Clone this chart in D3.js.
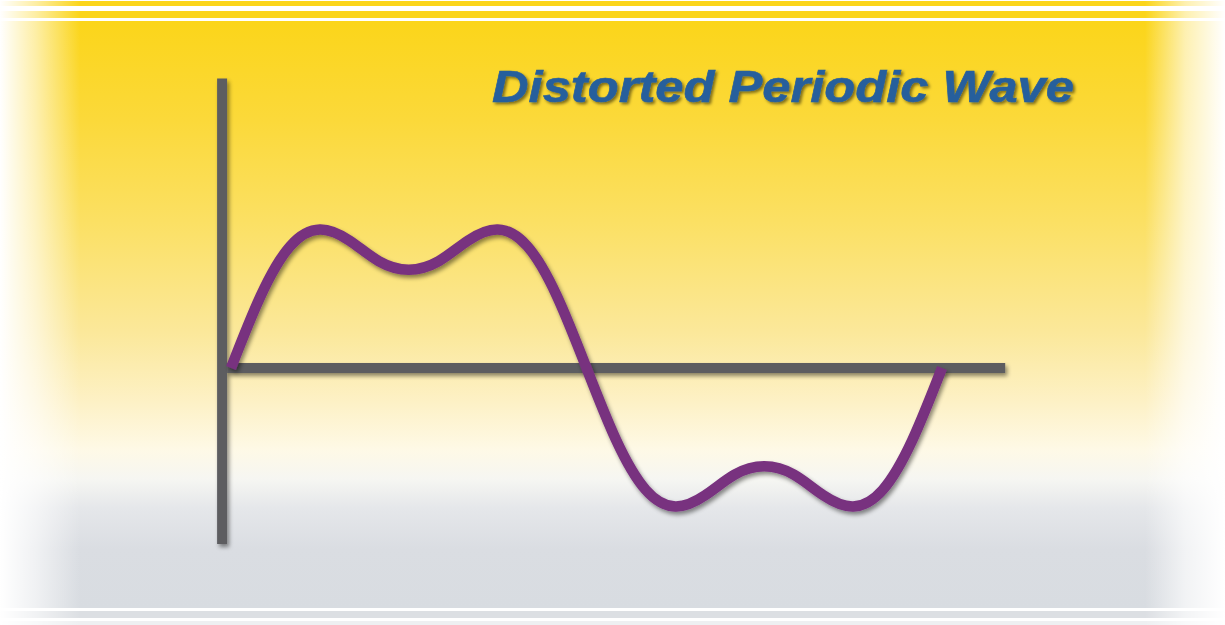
<!DOCTYPE html>
<html>
<head>
<meta charset="utf-8">
<script src="https://cdn.jsdelivr.net/npm/d3@7"></script>
<style>
  html, body { margin: 0; padding: 0; background: #fff; overflow: hidden; }
  svg { display: block; }
</style>
</head>
<body>
<svg id="chart"></svg>
<script>
// Size of the picture
const width = 1225;
const height = 625;

// Wave: phase in degrees, amplitude relative to the peak
const phase = [0, 15, 30, 45, 60, 75, 90, 105, 120, 135, 150, 165, 180,
               195, 210, 225, 240, 255, 270, 285, 300, 315, 330, 345, 360];
const amplitude = [0, 0.52, 0.88, 1.0, 0.92, 0.77, 0.71, 0.77, 0.92, 1.0, 0.88, 0.52, 0,
                   -0.52, -0.88, -1.0, -0.92, -0.77, -0.71, -0.77, -0.92, -1.0, -0.88, -0.52, 0];

// Axis extents in data units
const xAxisExtent = [-4.5, 392];
const yAxisExtent = [-1.27, 2.09];

const title = "Distorted Periodic Wave";

const svg = d3.select("#chart")
  .attr("width", width)
  .attr("height", height);

const defs = svg.append("defs");

// Background gradient, top yellow to bottom grey
const bg = defs.append("linearGradient")
  .attr("id", "bg")
  .attr("x1", 0).attr("y1", 0).attr("x2", 0).attr("y2", 1);
[
  [0.00, "#fbd51a"],
  [0.17, "#fbd93a"],
  [0.34, "#fbe063"],
  [0.53, "#fbe89a"],
  [0.65, "#fdf1c6"],
  [0.73, "#fef9e6"],
  [0.78, "#f6f6f2"],
  [0.83, "#e5e7ea"],
  [0.90, "#dadde2"],
  [1.00, "#d8dce1"]
].forEach(function(s) {
  bg.append("stop").attr("offset", s[0]).attr("stop-color", s[1]);
});

// White fades on the left and right edges
const fadeL = defs.append("linearGradient")
  .attr("id", "fadeL")
  .attr("x1", 0).attr("y1", 0).attr("x2", 1).attr("y2", 0);
fadeL.append("stop").attr("offset", 0).attr("stop-color", "#fff").attr("stop-opacity", 1);
fadeL.append("stop").attr("offset", 0.45).attr("stop-color", "#fff").attr("stop-opacity", 0.6);
fadeL.append("stop").attr("offset", 1).attr("stop-color", "#fff").attr("stop-opacity", 0);

const fadeR = defs.append("linearGradient")
  .attr("id", "fadeR")
  .attr("x1", 0).attr("y1", 0).attr("x2", 1).attr("y2", 0);
fadeR.append("stop").attr("offset", 0).attr("stop-color", "#fff").attr("stop-opacity", 0);
fadeR.append("stop").attr("offset", 0.5).attr("stop-color", "#fff").attr("stop-opacity", 0.65);
fadeR.append("stop").attr("offset", 1).attr("stop-color", "#fff").attr("stop-opacity", 1);

// Soft drop shadows
defs.append("filter")
  .attr("id", "shadow")
  .attr("x", "-20%").attr("y", "-20%").attr("width", "140%").attr("height", "140%")
  .append("feDropShadow")
  .attr("dx", 2).attr("dy", 3).attr("stdDeviation", 2.2)
  .attr("flood-color", "#000").attr("flood-opacity", 0.45);

defs.append("filter")
  .attr("id", "textShadow")
  .attr("x", "-5%").attr("y", "-20%").attr("width", "110%").attr("height", "150%")
  .append("feDropShadow")
  .attr("dx", 2).attr("dy", 2).attr("stdDeviation", 1.6)
  .attr("flood-color", "#000").attr("flood-opacity", 0.5);

// Background
svg.append("rect")
  .attr("x", 0).attr("y", 0).attr("width", width).attr("height", height)
  .attr("fill", "#ffffff");

svg.append("rect")
  .attr("x", 0).attr("y", 21).attr("width", width).attr("height", 587)
  .attr("fill", "url(#bg)");

// Stripes at the top
svg.append("rect").attr("x", 0).attr("y", 1).attr("width", width).attr("height", 5).attr("fill", "#fbd51a");
svg.append("rect").attr("x", 0).attr("y", 11).attr("width", width).attr("height", 7).attr("fill", "#fbd51a");

// Stripe at the bottom
svg.append("rect").attr("x", 0).attr("y", 611).attr("width", width).attr("height", 7).attr("fill", "#dcdfe3");
svg.append("rect").attr("x", 0).attr("y", 621).attr("width", width).attr("height", 4).attr("fill", "#eef0f2");

// Edge fades
svg.append("rect")
  .attr("x", 0).attr("y", 0).attr("width", 80).attr("height", height)
  .attr("fill", "url(#fadeL)");
svg.append("rect")
  .attr("x", 1145).attr("y", 0).attr("width", 80).attr("height", height)
  .attr("fill", "url(#fadeR)");

// Scales
const x = d3.scaleLinear()
  .domain([0, 360])
  .range([231, 942]);

const y = d3.scaleLinear()
  .domain([-1, 1])
  .range([506.5, 229.5]);

// Axes
const axes = svg.append("g")
  .attr("filter", "url(#shadow)")
  .attr("stroke", "#5d5d61")
  .attr("stroke-width", 10);

axes.append("line")
  .attr("x1", x(xAxisExtent[0])).attr("x2", x(xAxisExtent[0]))
  .attr("y1", y(yAxisExtent[0])).attr("y2", y(yAxisExtent[1]));

axes.append("line")
  .attr("x1", x(xAxisExtent[0]) + 5).attr("x2", x(xAxisExtent[1]))
  .attr("y1", y(0)).attr("y2", y(0));

// The wave
const line = d3.line()
  .x(function(d, i) { return x(phase[i]); })
  .y(function(d) { return y(d); })
  .curve(d3.curveNatural);

svg.append("path")
  .datum(amplitude)
  .attr("d", line)
  .attr("fill", "none")
  .attr("stroke", "#78307f")
  .attr("stroke-width", 10.5)
  .attr("stroke-linejoin", "round")
  .attr("filter", "url(#shadow)");

// Title
svg.append("text")
  .attr("x", 492)
  .attr("y", 102)
  .attr("textLength", 582)
  .attr("lengthAdjust", "spacingAndGlyphs")
  .attr("font-family", "'Liberation Sans', Arial, sans-serif")
  .attr("font-size", 45)
  .attr("font-weight", "bold")
  .attr("font-style", "italic")
  .attr("fill", "#275f9c")
  .attr("stroke", "#275f9c")
  .attr("stroke-width", 0.6)
  .attr("filter", "url(#textShadow)")
  .text(title);
</script>
</body>
</html>
